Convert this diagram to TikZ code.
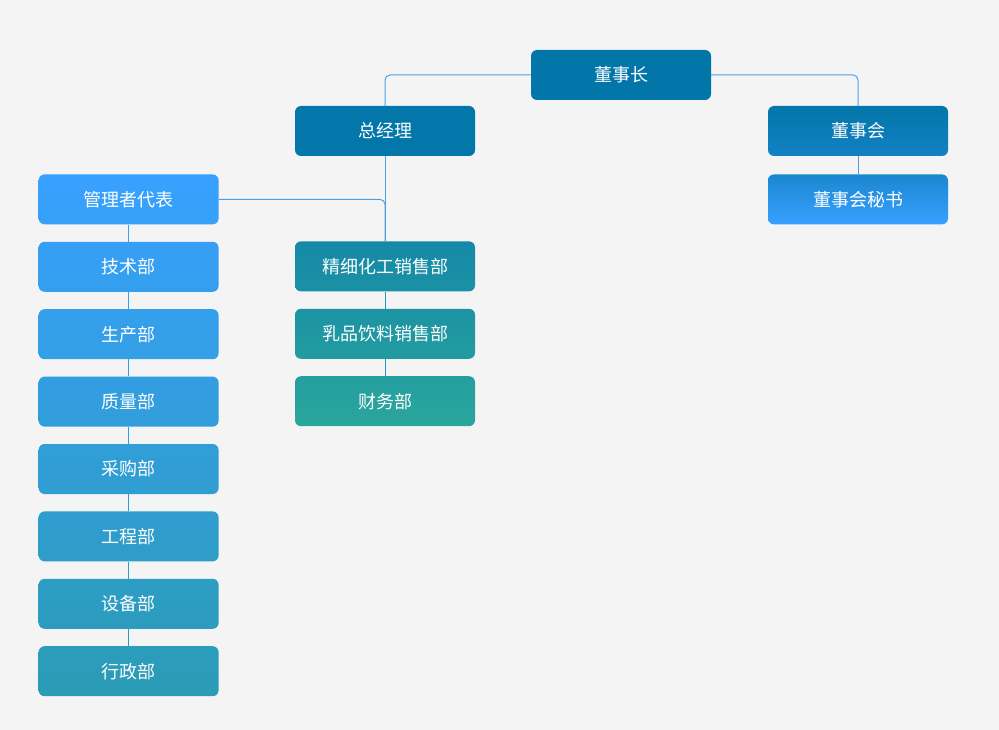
\documentclass[tikz,border=0pt]{standalone}
\usepackage{fontspec}
\setmainfont{Noto Sans CJK SC}
\usetikzlibrary{positioning,calc}

\definecolor{fond}{HTML}{F4F4F4}
\definecolor{foncé}{HTML}{0276A9}
\definecolor{bleuclair}{HTML}{38A0FF}
\definecolor{bleumoyen}{HTML}{1381C4}
\definecolor{gauchebas}{HTML}{2A9CB5}
\definecolor{milieuhaut}{HTML}{1589A7}
\definecolor{milieubas}{HTML}{2AA69C}
\definecolor{lienbleu}{HTML}{4AA0E8}

\begin{document}
\begin{tikzpicture}[
      x=1pt, y=1pt,
      poste/.style={
        rounded corners=6pt,
        minimum width=180pt,
        minimum height=50pt,
        inner sep=0pt,
        text=white,
        font=\fontsize{18}{21}\selectfont
      },
      gauche/.style={
        poste,
        top color=gauchebas!#1!bleuclair,
        bottom color=gauchebas!\the\numexpr#1+10\relax!bleuclair
      },
      milieu/.style={
        poste,
        top color=milieubas!#1!milieuhaut,
        bottom color=milieubas!\the\numexpr#1+27\relax!milieuhaut
      },
      lien/.style={
        draw=lienbleu,
        line width=1pt,
        rounded corners=5pt
      }
    ]
    \fill[fond] (0,0) rectangle (999,-730) ;

    \node[poste, fill=foncé] (pdg) at (621,-75) {董事长} ;
    \node[poste, fill=foncé!97!bleumoyen] (dg) at (385,-131) {总经理} ;
    \node[poste, top color=foncé, bottom color=bleumoyen] (ca) at (858,-131) {董事会} ;
    \node[poste, top color=bleumoyen!80!bleuclair, bottom color=bleuclair, below=18pt of ca] (sec) {董事会秘书} ;

    \node[gauche=0, below left=18pt and 76pt of dg] (rep) {管理者代表} ;
    \node[gauche=13, below=17pt of rep] (tech) {技术部} ;
    \node[gauche=26, below=17pt of tech] (prod) {生产部} ;
    \node[gauche=39, below=17pt of prod] (qual) {质量部} ;
    \node[gauche=52, below=17pt of qual] (achat) {采购部} ;
    \node[gauche=65, below=17pt of achat] (genie) {工程部} ;
    \node[gauche=78, below=17pt of genie] (equip) {设备部} ;
    \node[gauche=90, below=17pt of equip] (admin) {行政部} ;

    \node[milieu=0, below=85pt of dg] (vente1) {精细化工销售部} ;
    \node[milieu=36, below=17pt of vente1] (vente2) {乳品饮料销售部} ;
    \node[milieu=73, below=17pt of vente2] (fin) {财务部} ;

    \draw[lien] (pdg.west) -| (dg.north) ;
    \draw[lien] (pdg.east) -| (ca.north) ;
    \draw[lien] (ca.south) -- (sec.north) ;
    \draw[lien] (dg.south) -- (vente1.north) ;
    \draw[lien] (rep.east) -| (vente1.north) ;
    \draw[lien, draw=milieuhaut!60!lienbleu] (vente1.south) -- (vente2.north) ;
    \draw[lien, draw=milieuhaut!60!lienbleu] (vente2.south) -- (fin.north) ;

    \draw[lien, draw=bleuclair] (rep.south) -- (tech.north) ;
    \draw[lien, draw=gauchebas!20!bleuclair] (tech.south) -- (prod.north) ;
    \draw[lien, draw=gauchebas!35!bleuclair] (prod.south) -- (qual.north) ;
    \draw[lien, draw=gauchebas!50!bleuclair] (qual.south) -- (achat.north) ;
    \draw[lien, draw=gauchebas!65!bleuclair] (achat.south) -- (genie.north) ;
    \draw[lien, draw=gauchebas!80!bleuclair] (genie.south) -- (equip.north) ;
    \draw[lien, draw=gauchebas] (equip.south) -- (admin.north) ;
  \end{tikzpicture}
\end{document}
